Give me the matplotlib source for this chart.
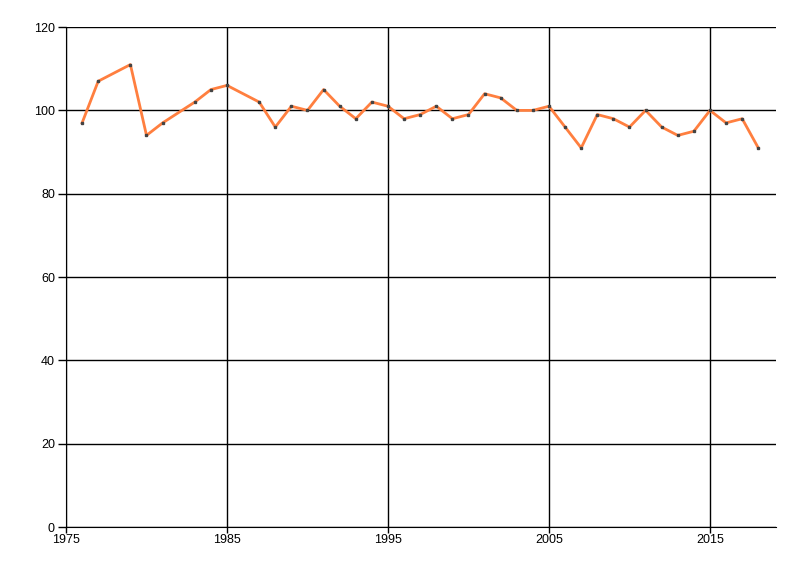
import matplotlib
matplotlib.use("Agg")
import matplotlib.pyplot as plt
from matplotlib import font_manager

years = [1976, 1977, 1979, 1980, 1981, 1983, 1984, 1985, 1987, 1988,
         1989, 1990, 1991, 1992, 1993, 1994, 1995, 1996, 1997, 1998,
         1999, 2000, 2001, 2002, 2003, 2004, 2005, 2006, 2007, 2008,
         2009, 2010, 2011, 2012, 2013, 2014, 2015, 2016, 2017, 2018]
values = [97, 107, 111, 94, 97, 102, 105, 106, 102, 96,
          101, 100, 105, 101, 98, 102, 101, 98, 99, 101,
          98, 99, 104, 103, 100, 100, 101, 96, 91, 99,
          98, 96, 100, 96, 94, 95, 100, 97, 98, 91]
x_ticks = [1975, 1985, 1995, 2005, 2015]
y_ticks = [0, 20, 40, 60, 80, 100, 120]

# narrow font if we have it, otherwise plain Liberation Sans
names = {f.name for f in font_manager.fontManager.ttflist}
fam = 'Liberation Sans Narrow' if 'Liberation Sans Narrow' in names else 'Liberation Sans'
plt.rcParams['font.family'] = [fam, 'DejaVu Sans']

fig = plt.figure(figsize=(8, 5.76), dpi=100)
ax = fig.add_axes([0.0825, 0.085, 0.8875, 0.868])

ax.plot(years, values, color='#ff7f3f', lw=2, zorder=3)
ax.plot(years, values, ls='none', marker='s', ms=2, color='#444444', zorder=4)

ax.set_xlim(1975, 2019.1)
ax.set_ylim(0, 120)
ax.set_xticks(x_ticks)
ax.set_yticks(y_ticks)
ax.grid(True, color='black', lw=1)
ax.set_axisbelow(True)
ax.spines['top'].set_visible(False)
ax.spines['right'].set_visible(False)
ax.tick_params(labelsize=9, width=1)
ax.tick_params(axis='y', length=6, pad=2)
ax.tick_params(axis='x', length=4, pad=1)

fig.savefig('out.png', dpi=100)
